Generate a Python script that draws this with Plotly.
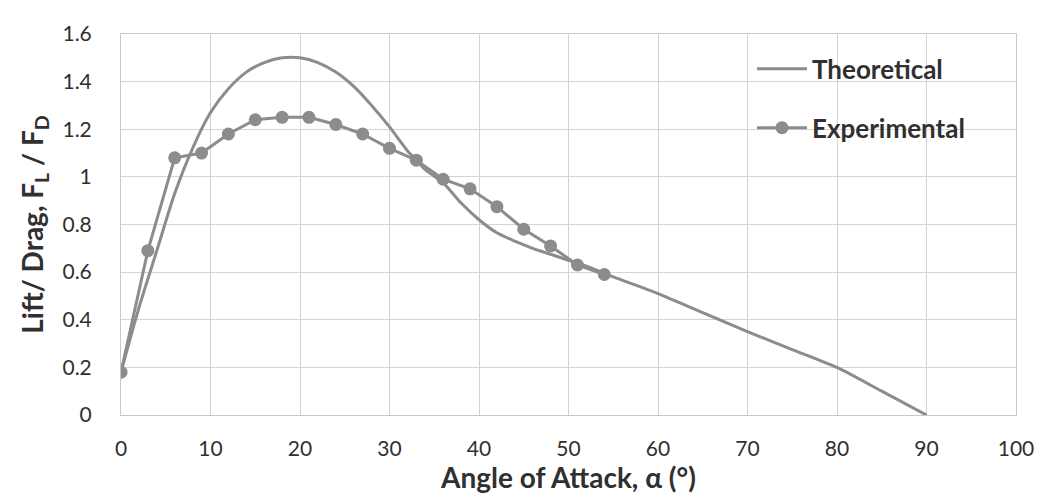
import plotly.graph_objects as go

# Theoretical curve (angle of attack in degrees, lift/drag ratio)
theo_alpha = [0, 2, 4, 6, 8, 10, 12, 14, 16, 18, 20, 22, 24, 26, 28, 30, 32, 33, 34, 36, 38, 40,
              42, 44, 46, 48, 50, 52, 55, 60, 65, 70, 75, 80, 85, 90]
theo_ratio = [0.18, 0.45, 0.69, 0.93, 1.12, 1.27, 1.37, 1.44, 1.48, 1.50, 1.50, 1.48, 1.44, 1.38,
              1.30, 1.21, 1.11, 1.07, 1.03, 0.975, 0.89, 0.82, 0.765, 0.73, 0.70, 0.675, 0.65, 0.625,
              0.58, 0.51, 0.43, 0.35, 0.275, 0.20, 0.10, 0.00]

# Experimental measurements
exp_alpha = [0, 3, 6, 9, 12, 15, 18, 21, 24, 27, 30, 33, 36, 39, 42, 45, 48, 51, 54]
exp_ratio = [0.18, 0.69, 1.08, 1.10, 1.18, 1.24, 1.25, 1.25, 1.22, 1.18, 1.12, 1.07, 0.99, 0.95,
             0.875, 0.78, 0.71, 0.63, 0.59]

x_ticks = [0, 10, 20, 30, 40, 50, 60, 70, 80, 90, 100]
y_ticks = [0, 0.2, 0.4, 0.6, 0.8, 1, 1.2, 1.4, 1.6]

GRAY = "#8c8c8c"
TEXT = "#303030"
FONT = "Lato, 'Open Sans', sans-serif"

fig = go.Figure()
fig.add_trace(go.Scatter(
    x=theo_alpha, y=theo_ratio, mode="lines", name="Theoretical",
    line=dict(color=GRAY, width=3, shape="spline", smoothing=0.7),
    legendgroup="a",
))
fig.add_trace(go.Scatter(
    x=exp_alpha, y=exp_ratio, mode="lines+markers", name="Experimental",
    line=dict(color=GRAY, width=3),
    marker=dict(color=GRAY, size=13, symbol="circle"),
    legendgroup="b",
))

fig.update_layout(
    width=1042, height=500,
    margin=dict(l=113, r=34, t=21, b=93),
    paper_bgcolor="white", plot_bgcolor="white",
    font=dict(family=FONT, color=TEXT, size=21),
    showlegend=True,
    legend=dict(
        x=0.705, y=0.97, xanchor="left", yanchor="top",
        bgcolor="rgba(0,0,0,0)",
        font=dict(size=26, color=TEXT, family=FONT, weight="bold"),
        traceorder="grouped", tracegroupgap=22,
        itemwidth=50,
    ),
    xaxis=dict(
        range=[0, 100], tickvals=x_ticks, showgrid=True, gridcolor="#d4d4d4", gridwidth=1,
        showline=True, linecolor="#c8c8c8", linewidth=1, mirror=True,
        zeroline=False, ticks="", ticklabelstandoff=15,
        tickfont=dict(size=21, color=TEXT),
        title=dict(text="Angle of Attack, α (°)", standoff=4,
                   font=dict(size=28, color=TEXT, weight="bold")),
    ),
    yaxis=dict(
        range=[0, 1.6], tickvals=y_ticks, showgrid=True, gridcolor="#d4d4d4", gridwidth=1,
        showline=True, linecolor="#c8c8c8", linewidth=1, mirror=True,
        zeroline=False, ticks="", ticklabelstandoff=24,
        tickfont=dict(size=21, color=TEXT),
        title=dict(text="Lift/ Drag, F<sub>L</sub> / F<sub>D</sub>", standoff=10,
                   font=dict(size=28, color=TEXT, weight="bold")),
    ),
)

fig.write_html("out.html")
